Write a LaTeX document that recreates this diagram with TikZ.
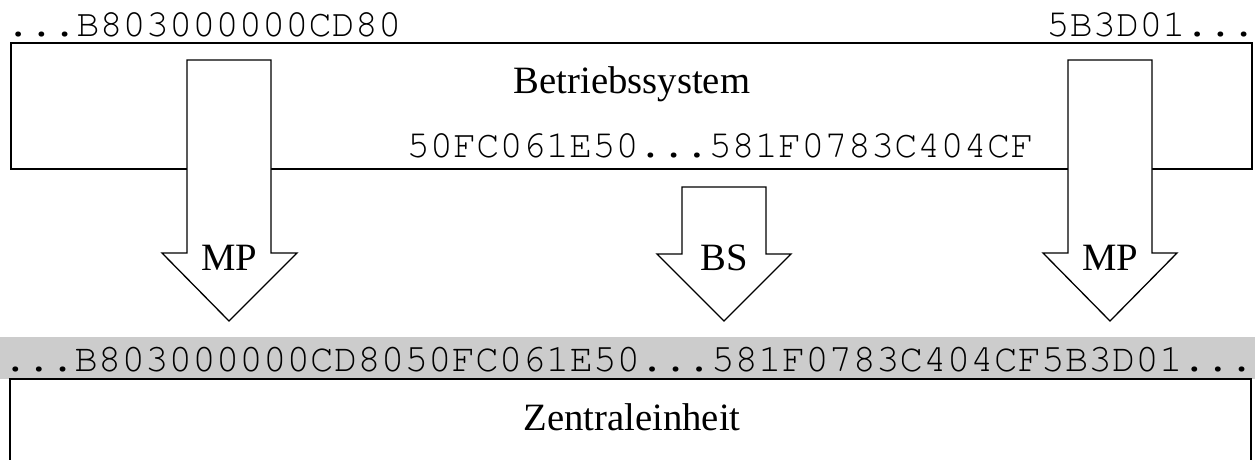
\documentclass[tikz,border=0pt]{standalone}
\usepackage{fontspec}
\setmainfont{Liberation Serif}
\newfontfamily\monofont[Extension=.otf]{texgyrecursor-regular}
\begin{document}
\begin{tikzpicture}[x=1pt,y=-1pt,line width=1.3pt,
  hexa/.style={inner sep=0pt,font=\monofont\fontsize{38.7}{40}\selectfont},
  hexb/.style={inner sep=0pt,font=\monofont\fontsize{39.3}{40}\selectfont},
  lbl/.style={inner sep=0pt,font=\fontsize{38.7}{40}\selectfont},
  bigarrow/.style={draw,fill=white,line join=miter}]
\useasboundingbox (0,0) rectangle (1255,459);
% upper box
\draw (11,43) rectangle (1252,169);
\node[lbl,anchor=base] (bs) at (632,93) {Betriebssystem};
\node[hexa,anchor=base west] (t1) at (6,36) {...B803000000CD80};
\node[hexa,anchor=base east] (t2) at (1256,36) {5B3D01...};
\node[hexa,anchor=base west] (t3) at (406,157) {50FC061E50...581F0783C404CF};
% arrows
\draw[bigarrow] (187,60) -- (271,60) -- (271,253) -- (297,253) -- (229,321) -- (162,253) -- (187,253) -- cycle;
\draw[bigarrow] (1068,60) -- (1152,60) -- (1152,253) -- (1177,253) -- (1110,321) -- (1043,253) -- (1068,253) -- cycle;
\draw[bigarrow] (682,187) -- (766,187) -- (766,254) -- (791,254) -- (724,321) -- (657,254) -- (682,254) -- cycle;
\node[lbl,anchor=base] (mp1) at (229,270) {MP};
\node[lbl,anchor=base] (bsl) at (724,270) {BS};
\node[lbl,anchor=base] (mp2) at (1110,270) {MP};
% gray band
\fill[gray!40] (0,337) rectangle (1255,379);
\node[hexb,anchor=base west] (t4) at (3,371) {...B803000000CD8050FC061E50...581F0783C404CF5B3D01...};
% lower box
\draw (10,460) -- (10,379) -- (1251,379) -- (1251,460);
\node[lbl,anchor=base] (ze) at (632,430) {Zentraleinheit};
\end{tikzpicture}
\end{document}
